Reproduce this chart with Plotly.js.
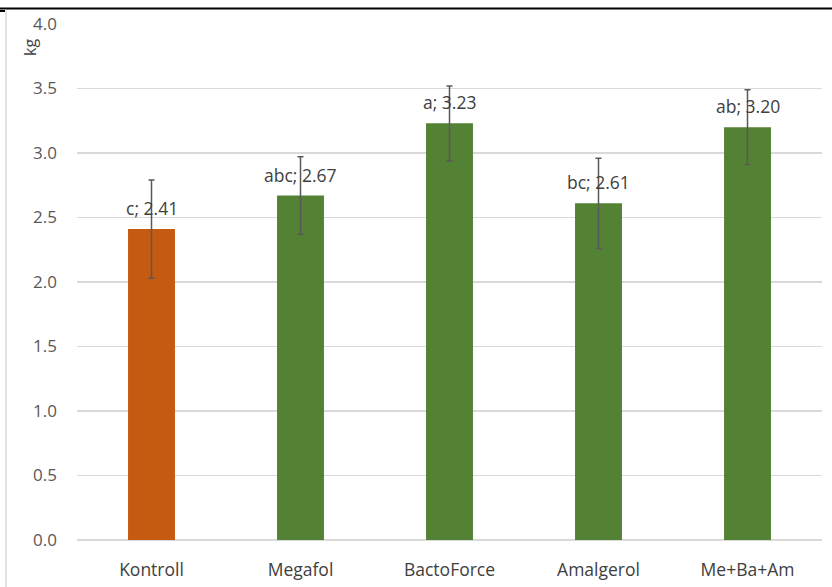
<!DOCTYPE html>
<html>
<head>
<meta charset="utf-8">
<script src="https://cdn.plot.ly/plotly-3.0.1.min.js"></script>
<style>html,body{margin:0;padding:0;background:#fff;}#chart{width:832px;height:587px;}</style>
</head>
<body>
<div id="chart"></div>
<script>
const categories = ["Kontroll", "Megafol", "BactoForce", "Amalgerol", "Me+Ba+Am"];
const values = [2.41, 2.67, 3.23, 2.61, 3.20];
const errors = [0.38, 0.30, 0.29, 0.35, 0.29];
const letters = ["c", "abc", "a", "bc", "ab"];
const barColors = ["#C55A11", "#548235", "#548235", "#548235", "#548235"];
const yTicks = [0, 0.5, 1.0, 1.5, 2.0, 2.5, 3.0, 3.5, 4.0];

const labels = letters.map((l, i) => l + "; " + values[i].toFixed(2));

const trace = {
  type: "bar",
  x: categories,
  y: values,
  marker: {color: barColors},
  width: 0.315,
  error_y: {type: "data", array: errors, visible: true, color: "#595959", thickness: 1.5, width: 3},
  hoverinfo: "none"
};

const labelAnnotations = categories.map((c, i) => ({
  x: c, y: values[i], xref: "x", yref: "y", text: labels[i], showarrow: false,
  yanchor: "middle", xanchor: "center", yshift: 21,
  font: {family: "Open Sans, sans-serif", size: 17.5, color: "#404040"}
}));

const layout = {
  width: 832, height: 587,
  margin: {l: 77, r: 10, t: 23.5, b: 47},
  paper_bgcolor: "#fff", plot_bgcolor: "#fff",
  showlegend: false,
  font: {family: "Open Sans, sans-serif", color: "#595959", size: 17},
  xaxis: {
    showgrid: false, showline: false, zeroline: false, ticks: "",
    ticklabelstandoff: 17,
    tickfont: {size: 17.5, color: "#404040"}
  },
  yaxis: {
    range: [0, 4.0], tickvals: yTicks, tickformat: ".1f",
    showgrid: true, gridcolor: "#D9D9D9", gridwidth: 1.3,
    zeroline: true, zerolinecolor: "#D9D9D9", zerolinewidth: 1.3,
    showline: false, ticks: "", ticklabelstandoff: 19,
    tickfont: {size: 17, color: "#595959"}
  },
  shapes: [
    {type: "line", xref: "paper", yref: "paper", x0: -77/745, x1: 1 + 10/745, y0: 1 + 15.5/516.5, y1: 1 + 15.5/516.5, line: {color: "#000", width: 2}},
    {type: "line", xref: "paper", yref: "paper", x0: -77/745, x1: -72/745, y0: 1 + 13/516.5, y1: 1 + 13/516.5, line: {color: "#000", width: 2}},
    {type: "line", xref: "paper", yref: "paper", x0: -71/745, x1: -71/745, y0: 1 + 13/516.5, y1: -47/516.5, line: {color: "#D9D9D9", width: 1.5}}
  ],
  annotations: [
    {text: "kg", xref: "paper", yref: "paper", x: -47/745, y: 1 - 24/516.5, textangle: -90, showarrow: false,
     font: {size: 16, color: "#404040"}, xanchor: "center", yanchor: "middle"}
  ].concat(labelAnnotations)
};

Plotly.newPlot("chart", [trace], layout, {displayModeBar: false, staticPlot: true});
</script>
</body>
</html>
